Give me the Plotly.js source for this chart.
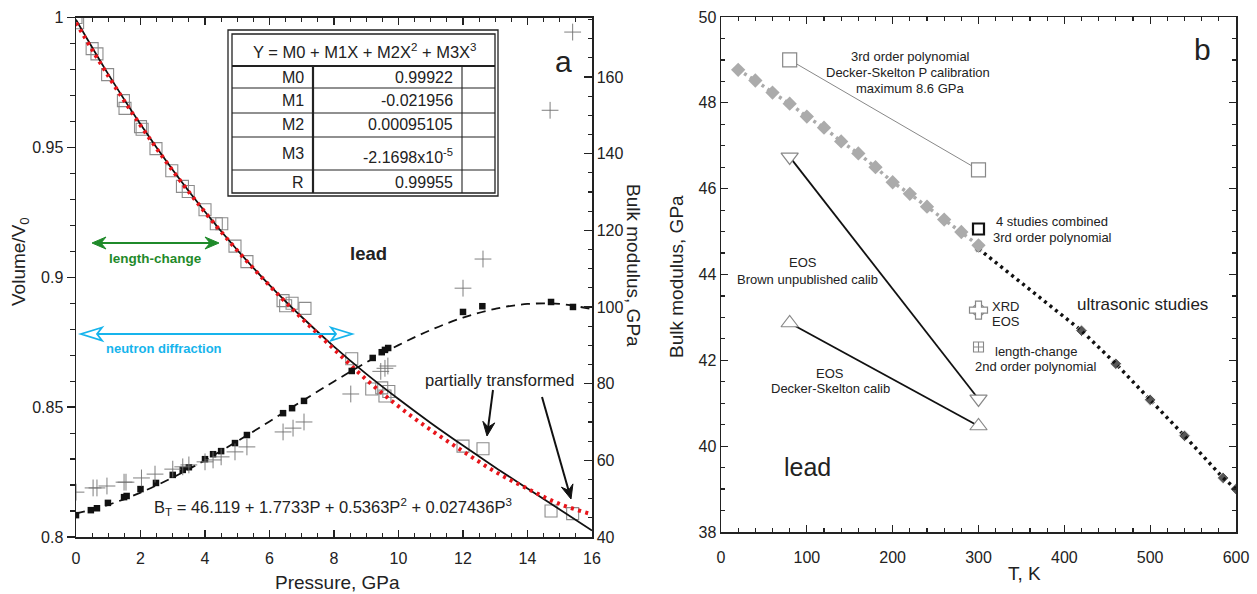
<!DOCTYPE html>
<html>
<head>
<meta charset="utf-8">
<script src="https://cdn.plot.ly/plotly-3.0.1.min.js"></script>
<style>html,body{margin:0;padding:0;background:#fff;}#chart{width:1257px;height:594px;}</style>
</head>
<body>
<div id="chart"></div>
<script>
// ---------- Panel a data ----------
const fitPressure = [0,1,2,3,4,5,6,7,8,9,10,11,12,13,14,15,16];
const fitVolume = [0.9992,0.9782,0.9589,0.9413,0.9252,0.9105,0.8970,0.8847,0.8733,0.8628,0.8531,0.8439,0.8352,0.8268,0.8187,0.8106,0.8025];
const fitVolumeRed = [0.9980,0.9775,0.9585,0.9410,0.9250,0.9103,0.8968,0.8842,0.8723,0.8606,0.8503,0.8412,0.8330,0.8251,0.8186,0.8127,0.8087];
const sqPressure = [0,0.05,0.5,0.65,0.98,1.47,1.52,2.0,2.05,2.48,2.97,3.3,3.48,4.0,4.35,4.52,4.93,5.3,6.42,6.5,6.7,7.1,8.55,9.17,9.48,9.58,9.7,12.0,12.62,14.73,15.4];
const sqVolume = [1.0,0.998,0.988,0.986,0.978,0.968,0.965,0.958,0.957,0.9495,0.941,0.935,0.933,0.926,0.9206,0.9206,0.912,0.906,0.891,0.889,0.890,0.888,0.8686,0.857,0.8574,0.8543,0.856,0.835,0.834,0.810,0.809];
const bmPressure = [0,0.46,0.65,0.99,1.49,1.57,2.0,2.48,3.0,3.31,3.5,4.0,4.25,4.5,4.93,5.3,6.42,6.7,7.07,8.55,9.2,9.48,9.58,9.68,12.0,12.6,14.73,15.41];
const bmValue = [45.7,47.0,47.5,48.9,50.4,50.7,52.5,54.1,56.2,57.5,58.2,60.3,61.6,62.4,64.5,66.6,72.3,73.6,75.5,83.3,86.7,88.2,88.8,89.3,98.7,100.2,101.3,100.0];
const bFitPressure = [0,1,2,3,4,5,6,7,8,9,10,11,12,13,14,15,16];
const bFitValue = [46.12,48.40,51.59,55.52,60.04,64.96,70.14,75.40,80.58,85.52,90.05,94.00,97.22,99.53,100.78,100.79,99.40];
const plusPressure = [0,0.53,0.65,0.96,1.49,1.55,2.03,2.45,3.0,3.31,3.5,4.0,4.25,4.5,4.93,5.3,6.42,6.73,7.07,8.52,9.45,9.58,9.67,12.0,12.62,14.7,15.4];
const plusValue = [51.7,52.8,52.8,53.3,54.3,54.3,55.4,56.4,57.7,58.3,58.8,59.6,60.1,60.9,62.2,63.5,67.4,68.4,70.0,77.3,83.2,84.0,84.6,104.9,112.5,151.3,171.7];
const tableLabels = ["M0","M1","M2","M3","R"];
const tableValues = ["0.99922","-0.021956","0.00095105","-2.1698x10<sup>-5</sup>","0.99955"];
const xTicksA = [0,2,4,6,8,10,12,14,16];

// ---------- Panel b data ----------
const polyT = [80,300], polyB = [49.0,46.44];
const brownT = [80,300], brownB = [46.74,41.1];
const deckerT = [80,300], deckerB = [42.87,40.47];
const combT = [20,40,60,80,100,120,140,160,180,200,220,240,260,280,300];
const combB = [48.77,48.52,48.24,47.98,47.68,47.42,47.1,46.82,46.5,46.15,45.88,45.58,45.28,44.99,44.68];
const ultraT = [300,420,460,500,540,585,600];
const ultraB = [44.6,42.69,41.92,41.08,40.24,39.26,39.0];
const fourT = [300], fourB = [45.06];
const xrdT = [300], xrdB = [43.17];
const lcT = [300], lcB = [42.31];

const W = 1257, H = 594;
const px = x => x / W;
const py = y => 1 - y / H;
const FONT = "Liberation Sans, Arial, sans-serif";
const INK = "#222";

const traces = [
  {x: sqPressure, y: sqVolume, mode: "markers", xaxis: "x", yaxis: "y",
   marker: {symbol: "square-open", size: 12, color: "#8c8c8c", line: {width: 1.1}}},
  {x: fitPressure, y: fitVolume, mode: "lines", xaxis: "x", yaxis: "y",
   line: {color: "#111", width: 1.8, shape: "spline"}},
  {x: fitPressure, y: fitVolumeRed, mode: "lines", xaxis: "x", yaxis: "y",
   line: {color: "#e8141a", width: 4, dash: "3px,4.5px", shape: "spline"}},
  {x: bFitPressure, y: bFitValue, mode: "lines", xaxis: "x", yaxis: "y2",
   line: {color: "#111", width: 1.8, dash: "9px,6px", shape: "spline"}},
  {x: bmPressure, y: bmValue, mode: "markers", xaxis: "x", yaxis: "y2",
   marker: {symbol: "square", size: 6.5, color: "#111"}},
  {x: plusPressure, y: plusValue, mode: "markers", xaxis: "x", yaxis: "y2",
   marker: {symbol: "cross-thin-open", size: 12, color: "#707070", line: {width: 0.9, color: "#707070"}}},
  // panel b
  {x: polyT, y: polyB, mode: "lines+markers", xaxis: "x2", yaxis: "y3",
   line: {color: "#888", width: 1},
   marker: {symbol: "square", size: 14, color: "#fff", line: {color: "#888", width: 1.2}}},
  {x: brownT, y: brownB, mode: "lines+markers", xaxis: "x2", yaxis: "y3",
   line: {color: "#111", width: 1.8},
   marker: {symbol: "triangle-down", size: 15, color: "#fff", line: {color: "#888", width: 1.2}}},
  {x: deckerT, y: deckerB, mode: "lines+markers", xaxis: "x2", yaxis: "y3",
   line: {color: "#111", width: 1.8},
   marker: {symbol: "triangle-up", size: 15, color: "#fff", line: {color: "#888", width: 1.2}}},
  {x: ultraT, y: ultraB, mode: "lines+markers", xaxis: "x2", yaxis: "y3",
   line: {color: "#111", width: 3.5, dash: "3px,4px"},
   marker: {symbol: ["circle","diamond","diamond","diamond","diamond","diamond","diamond"], size: [8,9,9,9,9,9,9], color: "#111"}},
  {x: combT, y: combB, mode: "lines+markers", xaxis: "x2", yaxis: "y3",
   line: {color: "#ababab", width: 3.5, dash: "3px,4px"},
   marker: {symbol: "diamond", size: 11, color: "#ababab"}},
  {x: fourT, y: fourB, mode: "markers", xaxis: "x2", yaxis: "y3",
   marker: {symbol: "square", size: 11, color: "#fff", line: {color: "#111", width: 2.2}}},
  {x: xrdT, y: xrdB, mode: "markers", xaxis: "x2", yaxis: "y3",
   marker: {symbol: "circle-open", size: 12, color: "#888", line: {width: 1.2}}},
  {x: xrdT, y: xrdB, mode: "markers", xaxis: "x2", yaxis: "y3",
   marker: {symbol: "cross", size: 15, color: "#fff", line: {color: "#888", width: 1.2}}},
  {x: lcT, y: lcB, mode: "markers", xaxis: "x2", yaxis: "y3",
   marker: {symbol: "square-cross-open", size: 10, color: "#888", line: {width: 1.1}}}
];

const axisBase = {
  showline: true, linecolor: INK, linewidth: 1.5, showgrid: false, zeroline: false,
  tickcolor: INK, tickwidth: 1.3, tickfont: {family: FONT, size: 16, color: INK}
};

const layout = {
  width: W, height: H, margin: {l: 0, r: 0, t: 0, b: 0},
  paper_bgcolor: "#fff", plot_bgcolor: "rgba(0,0,0,0)", showlegend: false,
  font: {family: FONT, color: INK},
  xaxis: Object.assign({}, axisBase, {
    domain: [px(76), px(592)], range: [0, 16], anchor: "y",
    tickmode: "array", tickvals: xTicksA, ticks: "inside", ticklen: 7, mirror: "ticks",
    ticklabelstandoff: 6,
    minor: {dtick: 0.5, tick0: 0, ticks: "inside", ticklen: 4, tickcolor: INK, tickwidth: 1.2, showgrid: false}
  }),
  yaxis: Object.assign({}, axisBase, {
    domain: [py(537), py(17.5)], range: [0.8, 1.0], anchor: "x",
    tickmode: "linear", tick0: 0.8, dtick: 0.05, ticks: "outside", ticklen: 8,
    minor: {dtick: 0.01, tick0: 0.8, ticks: "outside", ticklen: 5, tickcolor: INK, tickwidth: 1.2, showgrid: false}
  }),
  yaxis2: Object.assign({}, axisBase, {
    overlaying: "y", side: "right", anchor: "x", range: [40, 175.5],
    tickmode: "linear", tick0: 40, dtick: 20, ticks: "inside", ticklen: 8,
    minor: {dtick: 5, tick0: 40, ticks: "inside", ticklen: 4, tickcolor: INK, tickwidth: 1.2, showgrid: false}
  }),
  xaxis2: Object.assign({}, axisBase, {
    domain: [px(721), px(1236)], range: [0, 600], anchor: "y3",
    tickmode: "linear", tick0: 0, dtick: 100, ticks: "inside", ticklen: 7, mirror: "ticks",
    ticklabelstandoff: 10,
    minor: {dtick: 20, tick0: 0, ticks: "inside", ticklen: 4, tickcolor: INK, tickwidth: 1.2, showgrid: false}
  }),
  yaxis3: Object.assign({}, axisBase, {
    domain: [py(532), py(17)], range: [38, 50], anchor: "x2",
    tickmode: "linear", tick0: 38, dtick: 2, ticks: "inside", ticklen: 7, mirror: "ticks",
    minor: {dtick: 0.5, tick0: 38, ticks: "inside", ticklen: 4, tickcolor: INK, tickwidth: 1.2, showgrid: false}
  }),
  shapes: [],
  annotations: []
};

function txt(x, y, text, size, opts) {
  return Object.assign({xref: "paper", yref: "paper", x: px(x), y: py(y), text: text, showarrow: false,
    xanchor: "center", yanchor: "middle", font: {family: FONT, size: size, color: INK}}, opts || {});
}
function line(x0, y0, x1, y1, w, c) {
  return {type: "line", xref: "paper", yref: "paper", x0: px(x0), y0: py(y0), x1: px(x1), y1: py(y1),
    line: {color: c || INK, width: w}};
}
function path(pts, stroke, w, fill) {
  let d = pts.map((p, i) => (i ? "L" : "M") + px(p[0]) + "," + py(p[1])).join(" ") + " Z";
  return {type: "path", xref: "paper", yref: "paper", path: d, line: {color: stroke, width: w}, fillcolor: fill || "#fff"};
}
function arrowShape(x0, y0, x1, y1, c) {
  // line from (x0,y0) to tip (x1,y1) with a swept head
  const dx = x1 - x0, dy = y1 - y0, L = Math.hypot(dx, dy), ux = dx / L, uy = dy / L;
  const nx = -uy, ny = ux, hl = 14, hw = 6, notch = 9;
  const bx = x1 - ux * hl, by = y1 - uy * hl;
  S.push(line(x0, y0, x1 - ux * notch, y1 - uy * notch, 2, c));
  S.push(path([[x1, y1], [bx + nx * hw, by + ny * hw], [x1 - ux * notch, y1 - uy * notch], [bx - nx * hw, by - ny * hw]], c, 1, c));
}

// ----- table -----
const S = layout.shapes, A = layout.annotations;
S.push({type: "rect", xref: "paper", yref: "paper", x0: px(228), x1: px(498), y0: py(196), y1: py(30), line: {color: INK, width: 1.3}, fillcolor: "#fff"});
S.push({type: "rect", xref: "paper", yref: "paper", x0: px(232), x1: px(495), y0: py(193), y1: py(34), line: {color: INK, width: 1.3}});
S.push(line(232, 66, 495, 66, 2.2));
[88, 113, 137, 170].forEach(y => S.push(line(232, y, 495, y, 1.1)));
S.push(line(313, 66, 313, 193, 2.2));
S.push(line(462, 66, 462, 193, 1.1));
A.push(txt(364, 51, "Y = M0 + M1X + M2X<sup>2</sup> + M3X<sup>3</sup>", 16.5));
const rowY = [77, 101, 125, 153, 182];
tableLabels.forEach((l, i) => A.push(txt(306, rowY[i], l, 16, {xanchor: "right"})));
tableValues.forEach((v, i) => A.push(txt(455, rowY[i] + (i === 3 ? 3 : 0), v, 16, {xanchor: "right"})));

// ----- panel a texts and arrows -----
A.push(txt(563, 61, "a", 30));
A.push(txt(368, 253, "<b>lead</b>", 18.5));
A.push(txt(155, 258, "<b>length-change</b>", 13.5, {font: {family: FONT, size: 13.5, color: "#1f8a2a"}}));
arrowShape(156, 243, 219, 243, "#1f8a2a");
arrowShape(156, 243, 92, 243, "#1f8a2a");
A.push(txt(164, 348, "<b>neutron diffraction</b>", 13, {font: {family: FONT, size: 13, color: "#16b4ec"}}));
S.push(line(97, 334, 336, 334, 2, "#16b4ec"));
S.push(path([[102, 327.5], [81, 334], [102, 340.5], [97, 334]], "#16b4ec", 1.8));
S.push(path([[331, 327.5], [352, 334], [331, 340.5], [336, 334]], "#16b4ec", 1.8));
A.push(txt(499, 380, "partially transformed", 16.5));
arrowShape(493, 390, 487, 436, "#111");
arrowShape(542, 397, 571, 499, "#111");
A.push(txt(152, 507, "B<sub>T</sub> = 46.119 + 1.7733P + 0.5363P<sup>2</sup> + 0.027436P<sup>3</sup>", 16.5, {xanchor: "left"}));
A.push(txt(20, 262, "Volume/V<sub>0</sub>", 19, {textangle: -90}));
A.push(txt(337, 582, "Pressure, GPa", 19));
A.push(txt(634, 265, "Bulk modulus, GPa", 19, {textangle: 90}));

// ----- panel b texts -----
A.push(txt(1202, 49, "b", 30));
A.push(txt(910, 57, "3rd order polynomial", 13));
A.push(txt(908, 73, "Decker-Skelton P calibration", 13));
A.push(txt(910, 88, "maximum 8.6 GPa", 13));
A.push(txt(1052, 222, "4 studies combined", 13));
A.push(txt(1052, 237, "3rd order polynomial", 13));
A.push(txt(803, 263, "EOS", 13));
A.push(txt(807, 279, "Brown unpublished calib", 13));
A.push(txt(990, 306, "XRD", 13, {xanchor: "left"}));
A.push(txt(990, 321, "EOS", 13, {xanchor: "left"}));
A.push(txt(1142, 304, "ultrasonic studies", 17));
A.push(txt(1036, 351, "length-change", 13));
A.push(txt(1036, 366, "2nd order polynomial", 13));
A.push(txt(830, 373, "EOS", 13));
A.push(txt(830, 388, "Decker-Skelton calib", 13));
A.push(txt(807, 467, "lead", 25));
A.push(txt(676, 276, "Bulk modulus, GPa", 19, {textangle: -90}));
A.push(txt(1024, 573, "T, K", 19));

Plotly.newPlot("chart", traces, layout, {staticPlot: true, displayModeBar: false});
</script>
</body>
</html>
